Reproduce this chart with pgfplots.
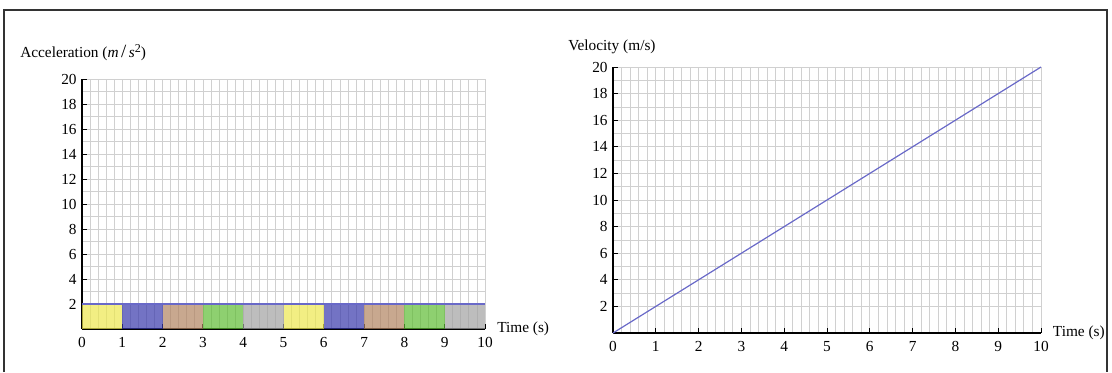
\documentclass[border=0pt]{standalone}
\usepackage{pgfplots}
\pgfplotsset{compat=1.18}
\usepackage{fontspec}
\setmainfont{Liberation Serif}
\definecolor{cyel}{RGB}{236,231,79}
\definecolor{cblu}{RGB}{56,56,171}
\definecolor{ctan}{RGB}{176,131,96}
\definecolor{cgrn}{RGB}{94,188,51}
\definecolor{cgry}{RGB}{161,161,161}
\definecolor{cline}{RGB}{105,105,200}
\definecolor{cgrid}{RGB}{208,208,208}
\pgfplotsset{
  mystyle/.style={
    scale only axis,
    anchor=south west,
    xmin=0, xmax=10, ymin=0, ymax=20,
    axis x line=bottom, axis y line=left,
    axis line style={-, black, line width=0.8pt},
    xtick={0,1,...,10}, ytick={2,4,...,20},
    minor x tick num=4, minor y tick num=1,
    grid=both,
    major grid style={cgrid, line width=0.6pt},
    minor grid style={cgrid, line width=0.6pt},
    tick align=inside,
    major tick length=3.5pt, minor tick length=0pt,
    tick style={black, line width=0.7pt},
    /pgf/number format/assume math mode=true,
    tick label style={font=\fontsize{11.5}{13}\selectfont},
    xticklabel style={yshift=-3pt},
    yticklabel style={xshift=-0.5pt},
    clip=false,
  }
}
\begin{document}
\begin{tikzpicture}
\useasboundingbox (0,0) rectangle (834pt,-279pt);
\draw[line width=1.5pt, black!80] (3pt,-279pt) -- (3pt,-7.5pt) -- (830.5pt,-7.5pt) -- (830.5pt,-279pt);
\begin{axis}[mystyle, at={(61.5pt,-246.75pt)}, width=302.25pt, height=187.5pt]
\addplot[draw=none, fill=cyel, fill opacity=0.7] coordinates {(0,2) (1,2)} \closedcycle;
\addplot[draw=none, fill=cblu, fill opacity=0.7] coordinates {(1,2) (2,2)} \closedcycle;
\addplot[draw=none, fill=ctan, fill opacity=0.7] coordinates {(2,2) (3,2)} \closedcycle;
\addplot[draw=none, fill=cgrn, fill opacity=0.7] coordinates {(3,2) (4,2)} \closedcycle;
\addplot[draw=none, fill=cgry, fill opacity=0.7] coordinates {(4,2) (5,2)} \closedcycle;
\addplot[draw=none, fill=cyel, fill opacity=0.7] coordinates {(5,2) (6,2)} \closedcycle;
\addplot[draw=none, fill=cblu, fill opacity=0.7] coordinates {(6,2) (7,2)} \closedcycle;
\addplot[draw=none, fill=ctan, fill opacity=0.7] coordinates {(7,2) (8,2)} \closedcycle;
\addplot[draw=none, fill=cgrn, fill opacity=0.7] coordinates {(8,2) (9,2)} \closedcycle;
\addplot[draw=none, fill=cgry, fill opacity=0.7] coordinates {(9,2) (10,2)} \closedcycle;
\addplot[cline, line width=0.9pt] coordinates {(0,2) (10,2)};
\end{axis}
\begin{axis}[mystyle, at={(459.75pt,-249.75pt)}, width=321pt, height=199.5pt]
\addplot[cline, line width=0.9pt] coordinates {(0,0) (10,20)};
\end{axis}
\node[anchor=west, inner sep=0pt, font=\fontsize{11.5}{13}\selectfont] at (15pt,-39.75pt) {Acceleration (\textit{m}\,{\fontsize{14}{14}\selectfont/}\,\textit{s}\raisebox{0.7ex}{\fontsize{9}{10}\selectfont 2})};
\node[anchor=west, inner sep=0pt, font=\fontsize{11.5}{13}\selectfont] at (426pt,-35.25pt) {Velocity (m/s)};
\node[anchor=west, inner sep=0pt, font=\fontsize{11.5}{13}\selectfont] at (372.75pt,-246.75pt) {Time (s)};
\node[anchor=west, inner sep=0pt, font=\fontsize{11.5}{13}\selectfont] at (789.5pt,-249.75pt) {Time (s)};
\end{tikzpicture}
\end{document}
